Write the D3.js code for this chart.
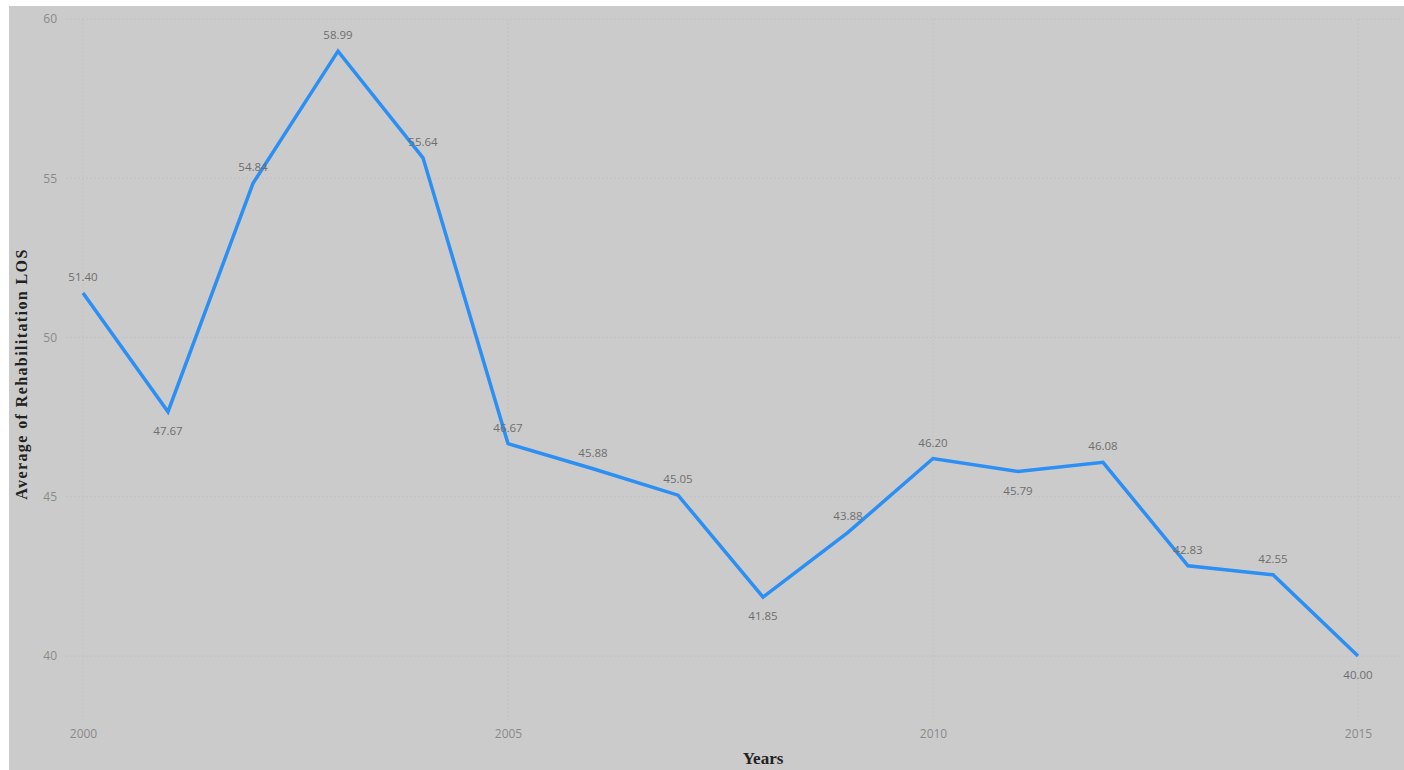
<!DOCTYPE html>
<html><head><meta charset="utf-8">
<script src="https://cdn.jsdelivr.net/npm/d3@7"></script>
<style>html,body{margin:0;padding:0;background:#fff;}svg{display:block;}</style>
</head><body>
<svg id="chart" width="1404" height="770"></svg>
<script>
const years = [2000,2001,2002,2003,2004,2005,2006,2007,2008,2009,2010,2011,2012,2013,2014,2015];
const losValues = [51.40,47.67,54.84,58.99,55.64,46.67,45.88,45.05,41.85,43.88,46.20,45.79,46.08,42.83,42.55,40.00];
const labelBelow = [false,true,false,false,false,false,false,false,true,false,false,true,false,false,false,true];
const yTicks = [40,45,50,55,60];
const xTicks = [2000,2005,2010,2015];

const svg = d3.select("#chart");
svg.append("rect").attr("x",9).attr("y",6).attr("width",1395).attr("height",764).attr("fill","#cbcbcb");

const x = d3.scaleLinear().domain([2000,2015]).range([83,1358]);
const y = d3.scaleLinear().domain([40,60]).range([656,19]);

// gridlines
const grid = svg.append("g");
grid.selectAll("line.h").data(yTicks).join("line")
  .attr("x1",66).attr("x2",1400).attr("y1",d=>y(d)).attr("y2",d=>y(d))
  .attr("stroke","#c2c2c2").attr("stroke-width",1).attr("stroke-dasharray","2,2");
grid.selectAll("line.v").data(xTicks).join("line")
  .attr("x1",d=>x(d)).attr("x2",d=>x(d)).attr("y1",19).attr("y2",720)
  .attr("stroke","#c2c2c2").attr("stroke-width",1).attr("stroke-dasharray","2,2");

// y axis
const yAxis = d3.axisLeft(y).tickValues(yTicks).tickSize(0).tickPadding(0).tickFormat(d3.format("d"));
const gy = svg.append("g").attr("transform","translate(57,0)").call(yAxis);
gy.select(".domain").remove();
gy.selectAll("text").attr("fill","#8a8a8a").style("font-family","'Open Sans',sans-serif").style("font-size","12px");

// x axis
const xAxis = d3.axisBottom(x).tickValues(xTicks).tickSize(0).tickPadding(0).tickFormat(d3.format("d"));
const gx = svg.append("g").attr("transform","translate(0,729)").call(xAxis);
gx.select(".domain").remove();
gx.selectAll("text").attr("fill","#8a8a8a").style("font-family","'Open Sans',sans-serif").style("font-size","12px");

// line
const data = years.map((yr,i)=>({yr, v: losValues[i], below: labelBelow[i]}));
svg.append("path").datum(data)
  .attr("fill","none").attr("stroke","#2b8ff3").attr("stroke-width",3.5)
  .attr("stroke-linejoin","miter")
  .attr("d", d3.line().x(d=>x(d.yr)).y(d=>y(d.v)));

// data labels
svg.append("g").selectAll("text").data(data).join("text")
  .attr("x",d=>x(d.yr)).attr("y",d=>y(d.v) + (d.below ? 23 : -12))
  .attr("text-anchor","middle")
  .attr("fill","#6e6e6e")
  .style("font-family","'Open Sans',sans-serif").style("font-size","11.5px")
  .text(d=>d.v.toFixed(2));

// axis titles
svg.append("text").attr("transform","translate(27,374) rotate(-90)")
  .attr("text-anchor","middle").attr("fill","#222")
  .style("font-family","'Liberation Serif',serif").style("font-weight","bold").style("font-size","16px")
  .style("letter-spacing","1.4px")
  .text("Average of Rehabilitation LOS");
svg.append("text").attr("x",763).attr("y",764)
  .attr("text-anchor","middle").attr("fill","#222")
  .style("font-family","'Liberation Serif',serif").style("font-weight","bold").style("font-size","17px")
  .text("Years");
</script>
</body></html>
